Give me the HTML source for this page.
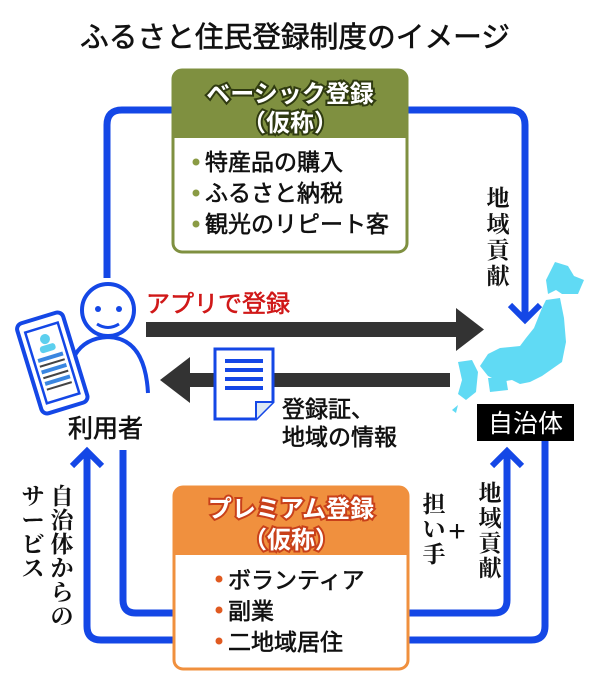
<!DOCTYPE html>
<html><head><meta charset="utf-8"><style>
html,body{margin:0;padding:0;background:#fff;}
svg{display:block;}
.s{font-family:"Liberation Sans","Noto Sans CJK JP",sans-serif;}
.m{font-family:"Liberation Serif","Noto Serif CJK SC",serif;}
.t{stroke:#111;stroke-width:0.6;}
</style></head><body>
<svg width="600" height="683" viewBox="0 0 600 683" xmlns="http://www.w3.org/2000/svg">
<rect width="600" height="683" fill="#fff"/>
<text class="s t" x="295" y="47" font-size="29" text-anchor="middle" textLength="430" lengthAdjust="spacingAndGlyphs" fill="#111">ふるさと住民登録制度のイメージ</text>

<path d="M107 278 V125 Q107 110 122 110 H510 Q525 110 525 125 V320" fill="none" stroke="#1447e6" stroke-width="7"/>
<path d="M510 305 L525 320 L540 305" fill="none" stroke="#1447e6" stroke-width="6"/>
<path d="M123 450 V600 Q123 613 136 613 H494 Q507 613 507 600 V452" fill="none" stroke="#1447e6" stroke-width="7"/>
<path d="M492 466 L507 451 L522 466" fill="none" stroke="#1447e6" stroke-width="6"/>
<path d="M87 452 V626 Q87 640 101 640 H531 Q545 640 545 626 V440" fill="none" stroke="#1447e6" stroke-width="7"/>
<path d="M72 466 L87 451 L102 466" fill="none" stroke="#1447e6" stroke-width="6"/>

<rect x="173" y="70" width="234" height="182" rx="9" fill="#fff" stroke="#7f9040" stroke-width="3"/>
<path d="M173 138 V79 Q173 70 182 70 H398 Q407 70 407 79 V138 Z" fill="#7f9040"/>
<g class="s" font-size="24" font-weight="bold" text-anchor="middle" fill="#fff" stroke="#2f3a10" stroke-width="4" paint-order="stroke">
<text x="290" y="102">ベーシック登録</text>
<text x="290" y="131">（仮称）</text>
</g>
<g class="s t" font-size="23" fill="#111">
<circle cx="196" cy="162" r="3.5" fill="#8a9b44" stroke="none"/><text x="205" y="170">特産品の購入</text>
<circle cx="196" cy="193" r="3.5" fill="#8a9b44" stroke="none"/><text x="205" y="201">ふるさと納税</text>
<circle cx="196" cy="224" r="3.5" fill="#8a9b44" stroke="none"/><text x="205" y="232">観光のリピート客</text>
</g>

<rect x="174" y="487" width="234" height="182" rx="9" fill="#fff" stroke="#f0903e" stroke-width="3"/>
<path d="M174 555 V496 Q174 487 183 487 H399 Q408 487 408 496 V555 Z" fill="#f0903e"/>
<g class="s" font-size="24" font-weight="bold" text-anchor="middle" fill="#fff" stroke="#c8401a" stroke-width="4" paint-order="stroke">
<text x="291" y="517">プレミアム登録</text>
<text x="291" y="548">（仮称）</text>
</g>
<g class="s t" font-size="23" fill="#111">
<circle cx="219" cy="579" r="3.5" fill="#e05a20" stroke="none"/><text x="228" y="588">ボランティア</text>
<circle cx="219" cy="610" r="3.5" fill="#e05a20" stroke="none"/><text x="228" y="619">副業</text>
<circle cx="219" cy="641" r="3.5" fill="#e05a20" stroke="none"/><text x="228" y="650">二地域居住</text>
</g>

<text class="s" x="146" y="312" font-size="24" fill="#d01818" stroke="#d01818" stroke-width="0.6">アプリで登録</text>
<rect x="146" y="322" width="312" height="15" fill="#333"/>
<path d="M456 308 L484 329.5 L456 351 Z" fill="#333"/>
<rect x="188" y="373" width="262" height="14" fill="#333"/>
<path d="M190 357 L160 380 L190 403 Z" fill="#333"/>

<path d="M215 349 H273 V402 L256 419 H215 Z" fill="#fff" stroke="#1447e6" stroke-width="3"/>
<path d="M256 419 V402 H273" fill="#dbe8f4" stroke="#1447e6" stroke-width="2"/>
<g stroke="#1447e6" stroke-width="4"><line x1="225" y1="361" x2="263" y2="361"/><line x1="225" y1="370" x2="263" y2="370"/><line x1="225" y1="379" x2="263" y2="379"/><line x1="225" y1="388" x2="263" y2="388"/></g>
<g class="s t" font-size="23" fill="#111"><text x="282" y="417">登録証、</text><text x="282" y="445">地域の情報</text></g>

<circle cx="108" cy="310" r="26" fill="#fff" stroke="#1447e6" stroke-width="4"/>
<circle cx="98" cy="309" r="3" fill="#1447e6"/><circle cx="119" cy="309" r="3" fill="#1447e6"/>
<path d="M97 324 Q108 331 119 324" fill="none" stroke="#1447e6" stroke-width="3"/>
<path d="M75 355 Q85 338 108 337 Q145 338 148 393" fill="none" stroke="#1447e6" stroke-width="4"/>
<g transform="rotate(-17 52 362)">
<rect x="28" y="316" width="48" height="94" rx="6" fill="#fff" stroke="#1447e6" stroke-width="4"/>
<rect x="35" y="326" width="34" height="74" fill="#fff" stroke="#1447e6" stroke-width="2.5"/>
<circle cx="52" cy="338" r="5" fill="#5ccfee"/><rect x="44" y="344" width="16" height="7" rx="3" fill="#5ccfee"/>
<rect x="39" y="355" width="26" height="4" fill="#3a86e0"/><rect x="39" y="362" width="26" height="2" fill="#444"/>
<rect x="39" y="367" width="26" height="4" fill="#3a86e0"/><rect x="39" y="374" width="26" height="2" fill="#444"/>
<rect x="39" y="379" width="26" height="4" fill="#3a86e0"/><rect x="39" y="386" width="26" height="2" fill="#444"/>
</g>
<text class="s t" x="68" y="437" font-size="25" fill="#111">利用者</text>

<g fill="#60daf4">
<path d="M555 262 L568 266 L574 276 L584 280 L578 294 L562 294 L556 290 L548 294 L546 280 Z"/>
<path d="M546 300 L560 298 L564 318 L566 342 L562 362 L542 376 L530 382 L520 384 L512 380 L500 382 L488 376 L480 366 L488 354 L500 348 L520 346 L526 338 L534 328 L538 318 L542 308 Z"/>
<path d="M458 362 L472 360 L478 372 L476 392 L466 400 L458 394 L462 380 Z"/>
<path d="M488 378 L506 378 L508 390 L490 392 Z"/>
<path d="M452 410 L458 405 L456 413 Z"/>
</g>
<rect x="477" y="404" width="97" height="37" fill="#000"/>
<text class="s" x="525.5" y="432" font-size="25" fill="#fff" text-anchor="middle">自治体</text>

<g class="m" font-size="23" fill="#111" text-anchor="middle" font-weight="bold">
<text x="498" y="206">地</text><text x="498" y="232">域</text><text x="498" y="258">貢</text><text x="498" y="284">献</text>
<text x="490" y="501">地</text><text x="490" y="526">域</text><text x="490" y="551">貢</text><text x="490" y="576">献</text>
<text x="434" y="512">担</text><text x="434" y="537">い</text><text x="434" y="562">手</text>
<text x="62" y="504">自</text><text x="62" y="528">治</text><text x="62" y="552">体</text><text x="62" y="576">か</text><text x="62" y="600">ら</text><text x="62" y="624">の</text>
<text x="33" y="504">サ</text><text x="33" y="528">ー</text><text x="33" y="552">ビ</text><text x="33" y="576">ス</text>
</g>
<text class="s" x="457" y="541" font-size="30" fill="#111" text-anchor="middle">+</text>
</svg>
</body></html>
